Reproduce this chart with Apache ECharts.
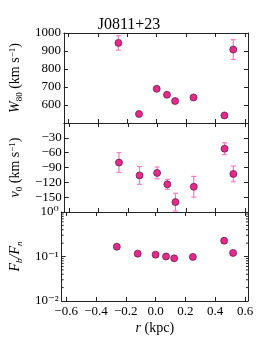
<!DOCTYPE html>
<html><head><meta charset="utf-8">
<script src="https://cdn.jsdelivr.net/npm/echarts@6/dist/echarts.min.js"></script>
<style>html,body{margin:0;padding:0;background:#fff}#c{width:258px;height:343px}</style>
</head><body><div id="c"></div>
<script>
const title = 'J0811+23';
const r = [-0.26, -0.12, 0.0, 0.07, 0.125, 0.25, 0.46, 0.52];
const w80 = [945, 550, 690, 657, 622, 642, 542, 908];
const w80Err = [40, 0, 0, 0, 0, 0, 0, 55];
const v0 = [-80, -106, -101, -124, -160, -129, -52, -103];
const v0Err = [20, 18, 12, 10, 18, 21, 12, 16];
const fbfn = [0.166, 0.116, 0.11, 0.10, 0.091, 0.098, 0.226, 0.12];
const xTicks = [-0.6, -0.4, -0.2, 0.0, 0.2, 0.4, 0.6];
const logMinor = [0.02,0.03,0.04,0.05,0.06,0.07,0.08,0.09,0.2,0.3,0.4,0.5,0.6,0.7,0.8,0.9];

const FONT = 'Liberation Serif, DejaVu Serif, serif';
const AX = '#222';
const MK = '#e7298a', MKE = '#5a1840', EB = '#f77fc0';

const grids = [
  {left: 48, right: 10, top: 33, height: 90},
  {left: 48, right: 10, top: 123, height: 89},
  {left: 48, right: 10, top: 212, height: 89}
];
const rich = {
  i: {fontStyle: 'italic', fontFamily: FONT, fontSize: 14, color: '#000', verticalAlign: 'bottom'},
  n: {fontFamily: FONT, fontSize: 14, color: '#000', verticalAlign: 'bottom'},
  s: {fontFamily: FONT, fontSize: 9, color: '#000', verticalAlign: 'bottom', padding: [0, 0, -2, 0]},
  si: {fontFamily: FONT, fontStyle: 'italic', fontSize: 9, color: '#000', verticalAlign: 'bottom', padding: [0, 0, -2, 0]},
  p: {fontFamily: FONT, fontSize: 9, color: '#000', verticalAlign: 'top'}
};

const xAxis = [], yAxis = [], series = [];
for (let g = 0; g < 3; g++) {
  ['bottom', 'top'].forEach(pos => {
    const isLabel = (g === 2 && pos === 'bottom');
    xAxis.push({
      type: 'value', gridIndex: g, position: pos, min: -0.63, max: 0.62,
      axisLine: {show: true, onZero: false, lineStyle: {color: AX, width: 1}},
      axisTick: {show: true, inside: true, length: 4, customValues: xTicks, lineStyle: {color: AX}},
      axisLabel: {show: isLabel, customValues: xTicks, color: '#000', fontFamily: FONT, fontSize: 13, margin: 4,
        formatter: v => v.toFixed(1).replace('-', '\u2212')},
      splitLine: {show: false},
      name: isLabel ? '{i|r}{n| (kpc)}' : '', nameLocation: 'middle', nameGap: 20,
      nameTextStyle: {color: '#000', fontFamily: FONT, fontSize: 14, rich: rich}
    });
  });
}
const yCommon = (g, pos) => ({gridIndex: g, position: pos,
  axisLine: {show: true, onZero: false, lineStyle: {color: AX, width: 1}},
  splitLine: {show: false}});
['left', 'right'].forEach(pos => {
  yAxis.push(Object.assign(yCommon(0, pos), {
    type: 'value', min: 500, max: 1000, interval: 100,
    axisTick: {inside: true, length: 4, lineStyle: {color: AX}},
    axisLabel: {show: pos === 'left', showMinLabel: false, color: '#000', fontFamily: FONT, fontSize: 13, margin: 3,
      formatter: v => String(v)},
    name: pos === 'left' ? '{i|W}{s|80}{n| (km s}{p|\u22121}{n|)}' : '', nameLocation: 'middle', nameGap: 31, nameRotate: 90,
    nameTextStyle: {color: '#000', fontFamily: FONT, fontSize: 14, rich: rich}
  }));
});
['left', 'right'].forEach(pos => {
  yAxis.push(Object.assign(yCommon(1, pos), {
    type: 'value', min: -180, max: 0, interval: 30,
    axisTick: {inside: true, length: 4, lineStyle: {color: AX}},
    axisLabel: {show: pos === 'left', showMinLabel: false, showMaxLabel: false, color: '#000', fontFamily: FONT, fontSize: 13, margin: 3,
      formatter: v => String(v).replace('-', '\u2212')},
    name: pos === 'left' ? '{i|v}{s|0}{n| (km s}{p|\u22121}{n|)}' : '', nameLocation: 'middle', nameGap: 30, nameRotate: 90,
    nameTextStyle: {color: '#000', fontFamily: FONT, fontSize: 14, rich: rich}
  }));
});
const supMap = {'0': '\u2070', '-1': '\u207B\u00B9', '-2': '\u207B\u00B2'};
['left', 'right'].forEach(pos => {
  yAxis.push(Object.assign(yCommon(2, pos), {
    type: 'log', logBase: 10, min: 0.01, max: 1,
    axisTick: {inside: true, length: 4, lineStyle: {color: AX}},
    axisLabel: {show: pos === 'left', color: '#000', fontFamily: FONT, fontSize: 13, margin: 3,
      formatter: v => '10' + supMap[String(Math.round(Math.log10(v)))]},
    name: pos === 'left' ? '{i|F}{si|b}{i|/F}{si|n}' : '', nameLocation: 'middle', nameGap: 30, nameRotate: 90,
    nameTextStyle: {color: '#000', fontFamily: FONT, fontSize: 14, rich: rich}
  }));
});

// minor log ticks on the log panel, placed through the axis scale
series.push({
  type: 'custom', xAxisIndex: 4, yAxisIndex: 4, z: 5, silent: true,
  data: logMinor.map(v => [0, v]),
  renderItem: (params, api) => {
    const cs = params.coordSys;
    const y = api.coord([0, api.value(1)])[1];
    const st = {stroke: AX, lineWidth: 1};
    return {type: 'group', children: [
      {type: 'line', shape: {x1: cs.x, y1: y, x2: cs.x + 2, y2: y}, style: st},
      {type: 'line', shape: {x1: cs.x + cs.width - 2, y1: y, x2: cs.x + cs.width, y2: y}, style: st}
    ]};
  }
});

function errSeries(xi, yi, vals, errs) {
  const data = r.map((x, i) => [x, vals[i], errs[i]]).filter(d => d[2] > 0);
  return {
    type: 'custom', xAxisIndex: xi, yAxisIndex: yi, z: 2, silent: true,
    data: data,
    renderItem: (params, api) => {
      const x = api.value(0), y = api.value(1), e = api.value(2);
      const p1 = api.coord([x, y + e]), p2 = api.coord([x, y - e]);
      const c = 2.5;
      const st = {stroke: EB, lineWidth: 1.2};
      return {type: 'group', children: [
        {type: 'line', shape: {x1: p1[0], y1: p1[1], x2: p2[0], y2: p2[1]}, style: st},
        {type: 'line', shape: {x1: p1[0] - c, y1: p1[1], x2: p1[0] + c, y2: p1[1]}, style: st},
        {type: 'line', shape: {x1: p2[0] - c, y1: p2[1], x2: p2[0] + c, y2: p2[1]}, style: st}
      ]};
    }
  };
}
function pts(xi, yi, vals) {
  return {type: 'scatter', xAxisIndex: xi, yAxisIndex: yi, z: 3, symbol: 'circle', symbolSize: 7,
    itemStyle: {color: MK, borderColor: MKE, borderWidth: 0.7, opacity: 1},
    data: r.map((x, i) => [x, vals[i]])};
}
series.push(errSeries(0, 0, w80, w80Err), pts(0, 0, w80));
series.push(errSeries(2, 2, v0, v0Err), pts(2, 2, v0));
series.push(pts(4, 4, fbfn));

const chart = echarts.init(document.getElementById('c'), null, {renderer: 'canvas'});
chart.setOption({
  animation: false,
  title: {text: title, left: 'center', top: 17, padding: 0,
    textStyle: {color: '#000', fontFamily: FONT, fontSize: 16, fontWeight: 'normal'}},
  grid: grids, xAxis: xAxis, yAxis: yAxis, series: series
});
</script>
</body></html>
